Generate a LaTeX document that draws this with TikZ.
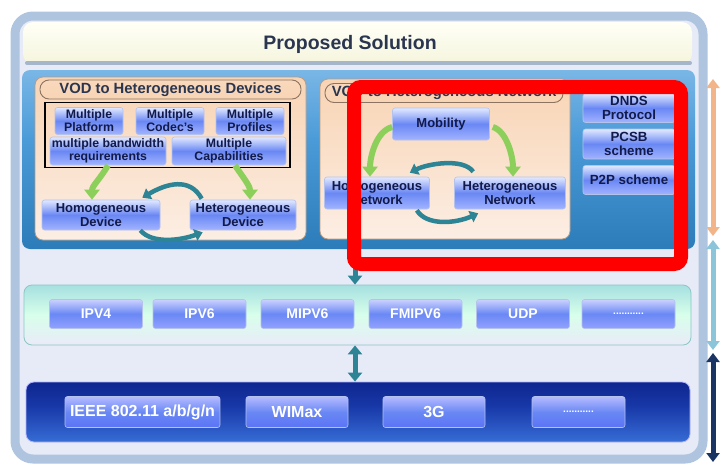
\documentclass[tikz,border=0pt]{standalone}
\usepackage{fontspec}
\setmainfont{Liberation Sans}
\usetikzlibrary{arrows.meta,calc}
\definecolor{frameblue}{HTML}{AFC4DE}
\definecolor{bglav}{HTML}{E7EBF7}
\definecolor{titletxt}{HTML}{2A3550}
\definecolor{peachtop}{HTML}{F8D4B4}
\definecolor{peachbot}{HTML}{FCEEE4}
\definecolor{peachline}{HTML}{B89C84}
\definecolor{pillline}{HTML}{8C7462}
\definecolor{navytxt}{HTML}{111A4A}
\definecolor{btntop}{HTML}{E2E9FF}
\definecolor{btnmid}{HTML}{6A88F4}
\definecolor{btnbot}{HTML}{A2B4FF}
\definecolor{btnline}{HTML}{B4C2EC}
\definecolor{greenarr}{HTML}{8CCF5A}
\definecolor{tealarr}{HTML}{2D8494}
\definecolor{orangearr}{HTML}{F2B58A}
\definecolor{lbluearr}{HTML}{8CC4DA}
\definecolor{navyarr}{HTML}{1A3563}
\definecolor{panellight}{HTML}{9CCCF0}
\definecolor{panelmid}{HTML}{4A9AD8}
\definecolor{paneldark}{HTML}{1F70AC}
\definecolor{panelbot}{HTML}{DCE6F4}
\definecolor{bandnavy}{HTML}{0A1C82}
\definecolor{bandmid}{HTML}{1838A8}
\definecolor{bandlow}{HTML}{3A72DA}
\definecolor{bandedge}{HTML}{BCD2F2}
\pgfdeclareverticalshading{panelsh}{100bp}{color(0bp)=(panelbot); color(4bp)=(panelbot); color(13bp)=(paneldark); color(55bp)=(panelmid); color(90bp)=(panellight); color(100bp)=(panellight)}
\pgfdeclareverticalshading{bandsh}{100bp}{color(0bp)=(bandedge); color(6bp)=(bandedge); color(22bp)=(bandlow); color(55bp)=(bandmid); color(85bp)=(bandnavy); color(94bp)=(bandnavy); color(100bp)=(bandlow)}
\begin{document}
\begin{tikzpicture}[x=1pt,y=-1pt,
  btn/.style={draw=btnline, line width=0.6pt, rounded corners=2.5pt,
    top color=btntop, bottom color=btnbot, middle color=btnmid,
    text=navytxt, font=\bfseries\fontsize{12.3}{13}\selectfont,
    align=center, inner sep=1pt},
  bigbtn/.style={btn, font=\bfseries\fontsize{13}{14}\selectfont},
  protobtn/.style={draw=btnline, line width=0.6pt, rounded corners=2.5pt,
    top color=btntop!90!blue, bottom color=btnbot!90!blue, middle color=btnmid,
    text=white, font=\bfseries\fontsize{14}{15}\selectfont,
    minimum width=93pt, minimum height=29pt, inner sep=1pt},
  linkbtn/.style={draw=btnline, line width=0.6pt, rounded corners=2.5pt,
    top color=btntop!80!blue, bottom color=btnmid!85!blue, middle color=btnmid,
    text=white, font=\bfseries\fontsize{16}{17}\selectfont,
    minimum height=31pt, inner sep=1pt},
  pill/.style={draw=pillline, line width=0.9pt, rounded corners=9pt,
    top color=peachtop!90!white, bottom color=peachtop,
    text=titletxt, font=\bfseries\fontsize{14.8}{15}\selectfont,
    minimum height=19pt, inner sep=0pt},
  peachbox/.style={draw=peachline, line width=0.8pt, rounded corners=8pt,
    top color=peachtop, bottom color=peachbot},
  garrow/.style={greenarr, line width=6pt, -{Triangle[width=15pt,length=10pt]}},
  tarrow/.style={tealarr, line width=4.5pt, -{Triangle[width=12pt,length=8pt]}},
  sidearrow/.style={line width=5pt, {Triangle[width=13pt,length=9pt]}-{Triangle[width=13pt,length=9pt]}}
]
\useasboundingbox (0,0) rectangle (728,466);
\fill[white] (0,0) rectangle (728,466);

% outer frame
\draw[frameblue, line width=9pt, fill=bglav, rounded corners=18pt] (15,16) rectangle (703,459);

% title band
\shade[rounded corners=10pt, top color=white!60!yellow!8, bottom color=yellow!10!white!92!gray] (23,22) rectangle (692,64);
\draw[frameblue!80!gray, line width=4pt, line cap=round] (27,63) -- (690,63);
\node[text=titletxt, font=\bfseries\fontsize{19.5}{20}\selectfont] (title) at (350,44) {Proposed Solution};

% middle blue panel
\shade[rounded corners=8pt, shading=panelsh] (22,70) rectangle (695,249);

% left box
\node[peachbox, minimum width=271pt, minimum height=163pt] (lbox) at (170.5,158.5) {};
\node[pill, minimum width=261pt] (lpill) at (170.5,89.5) {VOD to Heterogeneous Devices};
\node[draw=black, line width=1.5pt, minimum width=245pt, minimum height=65pt, inner sep=0pt] (lrect) at (167.5,135) {};
\node[btn, minimum width=68pt, minimum height=27pt] (mp) at (89,121) {Multiple\\Platform};
\node[btn, minimum width=68pt, minimum height=27pt] (mc) at (170,121) {Multiple\\Codec's};
\node[btn, minimum width=68pt, minimum height=27pt] (mpr) at (250,121) {Multiple\\Profiles};
\node[btn, minimum width=116pt, minimum height=28pt] (mb) at (108,151) {multiple bandwidth\\requirements};
\node[btn, minimum width=114pt, minimum height=28pt] (mcap) at (229,151) {Multiple\\Capabilities};
\node[bigbtn, minimum width=118pt, minimum height=30pt] (homd) at (101,215) {Homogeneous\\Device};
\node[bigbtn, minimum width=106pt, minimum height=30pt] (hetd) at (243,215) {Heterogeneous\\Device};

\draw[garrow] (mb.south) .. controls +(-8,14) and +(0,-14) .. ($(homd.north)+(-9,0)$);
\draw[garrow] ($(mcap.south)+(6,0)$) .. controls +(8,12) and +(0,-14) .. ($(hetd.north)+(7,0)$);
\draw[tarrow] ($(hetd.north west)+(12,-1)$) .. controls +(-12,-22) and +(24,-14) .. ($(homd.north east)+(-18,-2)$);
\draw[tarrow] ($(homd.south east)+(-20,0)$) .. controls +(12,14) and +(-22,8) .. ($(hetd.south west)+(13,2)$);

% right box
\node[peachbox, minimum width=250pt, minimum height=160pt] (rbox) at (445,159) {};
\node[pill, minimum width=238pt] (rpill) at (444,93) {VOD to Heterogeneous Network};
\node[bigbtn, minimum width=97pt, minimum height=32pt] (mob) at (441,124) {Mobility};
\node[bigbtn, minimum width=105pt, minimum height=32pt] (homn) at (377,193) {Homogeneous\\Network};
\node[bigbtn, minimum width=111pt, minimum height=32pt] (hetn) at (510,193) {Heterogeneous\\Network};

\draw[garrow] ($(mob.west)+(0,3)$) .. controls +(-16,4) and +(0,-20) .. ($(homn.north)+(-7,0)$);
\draw[garrow] ($(mob.east)+(3,3)$) .. controls +(14,4) and +(0,-20) .. ($(hetn.north)+(3,0)$);
\draw[tarrow] ($(hetn.north west)+(19,-5)$) .. controls +(-10,-14) and +(18,-9) .. ($(homn.north east)+(-20,-4)$);
\draw[tarrow] ($(homn.south east)+(-13,1)$) .. controls +(10,16) and +(-22,10) .. ($(hetn.south west)+(24,4)$);

% right column
\node[bigbtn, font=\bfseries\fontsize{13.3}{14}\selectfont, minimum width=92pt, minimum height=29pt] (dnds) at (629,108) {DNDS\\Protocol};
\node[bigbtn, font=\bfseries\fontsize{13.3}{14}\selectfont, minimum width=92pt, minimum height=30pt] (pcsb) at (629,144) {PCSB\\scheme};
\node[bigbtn, font=\bfseries\fontsize{13.3}{14}\selectfont, minimum width=92pt, minimum height=29pt] (p2p) at (629,180) {P2P scheme};

% protocol band
\node[draw=teal!45, line width=0.8pt, rounded corners=8pt, top color=cyan!30!teal!35!white, bottom color=blue!6!white!95!gray,
  middle color=cyan!8!white!92!green, minimum width=667pt, minimum height=60pt] (pband) at (357.5,315) {};
\node[protobtn] (ipv4) at (96,314) {IPV4};
\node[protobtn] (ipv6) at (199.5,314) {IPV6};
\node[protobtn] (mipv6) at (307.5,314) {MIPV6};
\node[protobtn] (fmipv6) at (415.5,314) {FMIPV6};
\node[protobtn] (udp) at (523,314) {UDP};
\node[protobtn, font=\bfseries\fontsize{10}{11}\selectfont] (pdots) at (628.5,314) {...........};

% link band
\node[draw=blue!30!white, line width=0.8pt, rounded corners=8pt, shading=bandsh,
  minimum width=664pt, minimum height=60pt] (lband) at (358,412) {};
\node[linkbtn, minimum width=155pt] (ieee) at (142.5,412) {IEEE 802.11 a/b/g/n};
\node[linkbtn, minimum width=102pt] (wimax) at (297,412) {WIMax};
\node[linkbtn, minimum width=102pt] (g3) at (434,412) {3G};
\node[linkbtn, minimum width=93pt, font=\bfseries\fontsize{10}{11}\selectfont] (ldots) at (578.5,412) {...........};

% vertical connectors between layers
\coordinate (topdn) at (355,262);
\draw[tealarr, line width=5pt, -{Triangle[width=14pt,length=9pt]}] (topdn) -- (pband.north -| topdn);
\draw[tealarr, line width=5pt, {Triangle[width=14pt,length=9pt]}-{Triangle[width=14pt,length=9pt]}] (pband.south -| topdn) -- (lband.north -| topdn);

% side arrows
\coordinate (oa1) at (713,79);
\coordinate (oa2) at (713,236);
\coordinate (la1) at (713,240);
\coordinate (la2) at (713,350);
\coordinate (na1) at (713,353);
\coordinate (na2) at (713,462);
\draw[sidearrow, orangearr] (oa1) -- (oa2);
\draw[sidearrow, lbluearr] (la1) -- (la2);
\draw[sidearrow, navyarr] (na1) -- (na2);

% red highlight
\draw[red, line width=14pt, rounded corners=7pt] (354,87) rectangle (681,264);
\end{tikzpicture}
\end{document}
